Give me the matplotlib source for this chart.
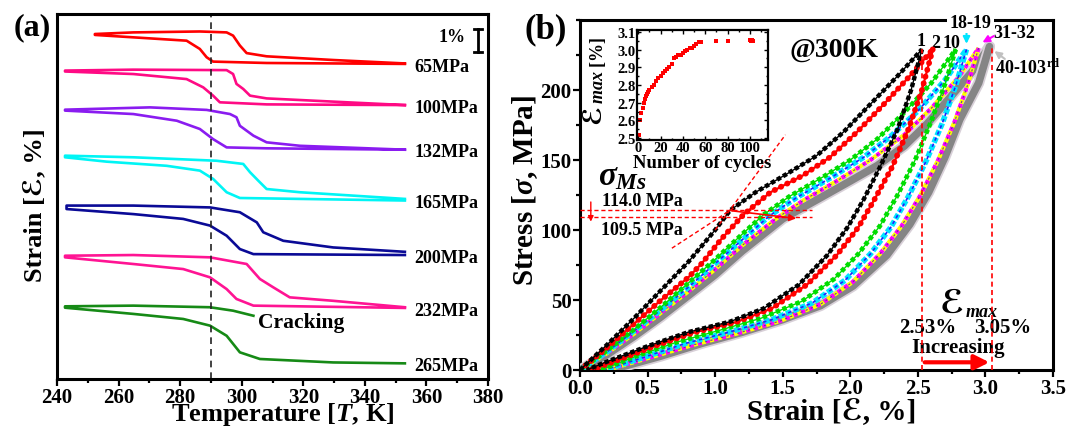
import matplotlib.pyplot as plt
import numpy as np
from matplotlib.ticker import MultipleLocator

plt.rcParams['font.family'] = ['Liberation Serif', 'STIXGeneral', 'DejaVu Sans']
plt.rcParams['font.weight'] = 'bold'
plt.rcParams['axes.labelweight'] = 'bold'
plt.rcParams['mathtext.fontset'] = 'custom'
plt.rcParams['mathtext.rm'] = 'Liberation Serif:bold'
plt.rcParams['mathtext.bf'] = 'Liberation Serif:bold'
plt.rcParams['mathtext.it'] = 'Liberation Serif:italic:bold'

# ---------- panel (a): strain-temperature loops at constant stress ----------
LOADS = ['65MPa', '100MPa', '132MPa', '165MPa', '200MPa', '232MPa', '265MPa']
LOAD_COLORS = ['#ff0000', '#ff0a84', '#8a1cf0', '#00f5f5', '#0a0a96', '#ff1493', '#168a16']

# branch with the higher transformation temperature (upper in the middle)
HEAT_T = [
    [252.3, 264.8, 286.4, 295.1, 297.2, 299.4, 301.6, 308.1, 329.7, 353],
    [242.6, 264.8, 295.1, 297.2, 298.3, 299.4, 300.5, 302.7, 308.1, 329.7, 353],
    [242.6, 270.2, 288.6, 296.2, 298.3, 299.4, 303.8, 308.1, 318.9, 353],
    [242.6, 264.8, 291.8, 300.5, 302.7, 305.4, 308.1, 318.9, 353],
    [243.1, 264.8, 289.7, 299.4, 304.9, 307.0, 313.5, 329.7, 353],
    [242.6, 264.8, 289.7, 301.6, 305.9, 310.2, 315.6, 329.7, 353],
    [242.6, 264.8, 289.7, 297.2, 303.8],
]
HEAT_S = [
    [15.0, 15.07, 15.11, 15.07, 14.93, 14.5, 14.17, 14.03, 13.87, 13.72],
    [13.41, 13.45, 13.43, 13.26, 12.83, 12.72, 12.61, 12.32, 12.2, 12.06, 11.91],
    [11.71, 11.81, 11.7, 11.52, 11.38, 11.01, 10.58, 10.29, 10.14, 9.97],
    [9.71, 9.64, 9.49, 9.35, 8.99, 8.62, 8.26, 8.12, 7.83],
    [7.54, 7.54, 7.46, 7.25, 6.81, 6.38, 6.01, 5.72, 5.53],
    [5.36, 5.39, 5.29, 5.0, 4.35, 3.99, 3.55, 3.40, 3.12],
    [3.16, 3.19, 3.12, 2.97, 2.75],
]
# branch with the lower transformation temperature
COOL_T = [
    [252.3, 270.2, 282.1, 286.4, 288.6, 290.7, 308.1, 353],
    [242.6, 264.8, 282.1, 287.5, 290.7, 292.9, 308.1, 353],
    [242.6, 264.8, 278.9, 286.4, 290.7, 295.1, 308.1, 353],
    [242.6, 256.1, 275.6, 286.4, 290.7, 295.1, 299.4, 353],
    [243.1, 264.8, 281.0, 289.7, 295.1, 299.4, 303.8, 353],
    [242.6, 264.8, 281.0, 289.7, 295.1, 298.3, 303.8, 353],
    [242.6, 264.8, 281.0, 289.7, 295.1, 299.4, 305.9, 329.7, 353],
]
COOL_S = [
    [14.96, 14.81, 14.71, 14.35, 13.99, 13.8, 13.74, 13.70],
    [13.37, 13.26, 13.04, 12.68, 12.32, 12.03, 11.94, 11.91],
    [11.67, 11.52, 11.23, 10.87, 10.43, 10.07, 10.03, 9.97],
    [9.64, 9.45, 9.27, 9.06, 8.7, 8.12, 7.87, 7.76],
    [7.39, 7.17, 6.96, 6.67, 6.23, 5.65, 5.43, 5.39],
    [5.29, 5.0, 4.78, 4.42, 3.91, 3.48, 3.19, 3.09],
    [3.1, 2.83, 2.61, 2.32, 1.88, 1.16, 0.87, 0.72, 0.68],
]
T_MARK = 290

# ---------- panel (b): cyclic stress-strain at 300 K ----------
CYCLE_LABELS = ['1', '2', '10', '18-19', '31-32', '40-103']
LOAD_E = [
    [0, 0.2, 0.4, 0.6, 0.8, 1.0, 1.11, 1.3, 1.53, 1.75, 1.95, 2.15, 2.35, 2.53],
    [0, 0.2, 0.4, 0.6, 0.8, 0.9, 1.05, 1.21, 1.41, 1.65, 1.85, 2.05, 2.25, 2.45, 2.61],
    [0, 0.2, 0.4, 0.6, 0.8, 1.0, 1.2, 1.36, 1.55, 1.8, 2.0, 2.2, 2.4, 2.6, 2.78],
    [0, 0.2, 0.4, 0.6, 0.8, 1.0, 1.2, 1.4, 1.6, 1.85, 2.1, 2.3, 2.5, 2.7, 2.86],
    [0, 0.2, 0.4, 0.6, 0.8, 1.0, 1.2, 1.45, 1.65, 1.9, 2.15, 2.4, 2.6, 2.8, 2.95],
    [0, 0.2, 0.4, 0.6, 0.8, 1.0, 1.2, 1.5, 1.76, 2.0, 2.2, 2.4, 2.57, 2.75, 2.9, 3.03],
]
LOAD_S = [
    [0, 18, 37, 57, 77, 100, 114, 127, 140, 153, 170, 190, 210, 229],
    [0, 16, 33, 50, 66, 76, 94, 111, 127, 139, 152, 170, 190, 211, 229],
    [0, 14, 29, 45, 62, 79, 97, 111, 124, 138, 150, 165, 184, 205, 229],
    [0, 13, 28, 43, 59, 76, 93, 110, 123, 137, 152, 167, 185, 207, 229],
    [0, 12, 26, 41, 56, 72, 89, 108, 121, 135, 150, 168, 187, 209, 230],
    [0, 11, 24, 38, 53, 68, 85, 108, 122, 135, 146, 160, 176, 196, 213, 231],
]
UNLOAD_E = [
    [2.53, 2.45, 2.35, 2.22, 2.1, 1.98, 1.83, 1.62, 1.36, 1.11, 0.8, 0.5, 0.2, 0.05],
    [2.61, 2.53, 2.43, 2.31, 2.18, 2.06, 1.9, 1.68, 1.42, 1.15, 0.85, 0.55, 0.25, 0.08],
    [2.78, 2.7, 2.6, 2.48, 2.35, 2.22, 2.06, 1.88, 1.64, 1.34, 1.02, 0.72, 0.42, 0.15],
    [2.86, 2.78, 2.68, 2.56, 2.43, 2.3, 2.15, 1.96, 1.72, 1.42, 1.1, 0.78, 0.47, 0.18],
    [2.95, 2.87, 2.77, 2.65, 2.52, 2.38, 2.22, 2.02, 1.78, 1.48, 1.16, 0.84, 0.52, 0.2],
    [3.03, 2.95, 2.81, 2.7, 2.58, 2.44, 2.27, 2.02, 1.78, 1.5, 1.2, 0.9, 0.6, 0.3, 0.2],
]
UNLOAD_S = [
    [229, 200, 172, 145, 122, 102, 82, 61, 44, 34.5, 27, 17, 6, 0],
    [229, 200, 172, 145, 122, 102, 82, 61, 44, 34, 27, 17, 6, 0],
    [229, 204, 178, 150, 125, 103, 83, 65, 49, 37, 28, 20, 10, 0],
    [229, 203, 176, 149, 124, 102, 83, 64, 48, 36, 27, 19, 9, 0],
    [230, 204, 177, 150, 125, 103, 83, 63, 47, 35, 26, 18, 9, 0],
    [231, 205, 179, 152, 127, 104, 82, 60, 46, 36, 27, 19, 10, 2, 0],
]
SIGMA_MS = [114.0, 109.5]
EPS_MAX = [2.53, 3.05]

# inset: maximum strain vs cycle number
N_CYCLE = [1, 2, 3, 4, 5, 6, 7, 8, 9, 10, 12, 14, 16, 18, 20, 22, 24, 26, 28, 30,
           32, 34, 36, 38, 40, 42, 44, 46, 48, 50, 52, 54, 56, 70, 80, 100, 101, 102, 103]
E_MAX = [2.52, 2.60, 2.64, 2.67, 2.70, 2.72, 2.74, 2.75, 2.76, 2.77, 2.79, 2.80, 2.82,
         2.84, 2.85, 2.87, 2.88, 2.89, 2.90, 2.92, 2.95, 2.96, 2.97, 2.97, 2.98, 2.99,
         3.00, 3.01, 3.01, 3.02, 3.03, 3.04, 3.04, 3.05, 3.05, 3.055, 3.05, 3.055, 3.05]

fig = plt.figure(figsize=(10.69, 4.27), dpi=100)
ax_a = fig.add_axes([57 / 1069, 47 / 427, 431 / 1069, 365 / 427])
ax_b = fig.add_axes([580 / 1069, 56 / 427, 473 / 1069, 350 / 427])
ax_in = fig.add_axes([637 / 1069, 286 / 427, 131 / 1069, 110 / 427])

for ax in (ax_a, ax_b, ax_in):
    for sp in ax.spines.values():
        sp.set_linewidth(2.2 if ax is not ax_in else 1.6)

# ---- (a)
for i, name in enumerate(LOADS):
    t = list(COOL_T[i][::-1]) + list(HEAT_T[i])
    s = list(COOL_S[i][::-1]) + list(HEAT_S[i])
    ax_a.plot(t, s, color=LOAD_COLORS[i], lw=1.9, solid_joinstyle='round')
    ax_a.text(356, COOL_S[i][-1] - 0.1, name, fontsize=13, va='center', ha='left')

ax_a.axvline(T_MARK, color='#222222', ls=(0, (4, 3)), lw=1.2)
ax_a.text(305.3, 2.5, 'Cracking', fontsize=15.5, va='center', ha='left')
ax_a.plot([376.7, 376.7], [14.2, 15.2], color='black', lw=2)
ax_a.plot([375.3, 378.1], [15.2, 15.2], color='black', lw=2)
ax_a.plot([375.3, 378.1], [14.2, 14.2], color='black', lw=2)
ax_a.text(368.3, 14.9, '1%', fontsize=13, ha='center', va='center')

ax_a.set_xlim(240, 380)
ax_a.set_ylim(0, 15.87)
ax_a.xaxis.set_major_locator(MultipleLocator(20))
ax_a.xaxis.set_minor_locator(MultipleLocator(10))
ax_a.tick_params(axis='x', which='both', direction='out', width=1.6, labelsize=15, pad=0.5)
ax_a.tick_params(axis='x', which='major', length=5)
ax_a.tick_params(axis='x', which='minor', length=3)
ax_a.tick_params(axis='y', left=False, labelleft=False)
ax_a.set_xlabel(r'Temperature [$T$, K]', fontsize=19)
ax_a.xaxis.set_label_coords(0.523, -0.058)
ax_a.set_ylabel('Strain [ℰ, %]', fontsize=19)
ax_a.yaxis.set_label_coords(-0.025, 0.48)
fig.text(14 / 1069, 1 - 28 / 427, '(a)', fontsize=23, va='center', ha='left')

# ---- (b)
def draw_cycle(ax, e, s, kind):
    if kind == 0:
        ax.plot(e, s, color='black', lw=1.0, zorder=8)
        ax.plot(e, s, color='black', lw=3.2, ls=(0, (1, 0.55)), dash_capstyle='butt', zorder=8)
    elif kind == 1:
        ax.plot(e, s, color='red', lw=1.6, zorder=7)
        ax.plot(e, s, color='red', lw=4.2, ls=(0, (0.05, 1.15)), dash_capstyle='round', zorder=7)
    elif kind == 2:
        ax.plot(e, s, color='#00dd00', lw=1.0, zorder=6)
        ax.plot(e, s, color='#00dd00', lw=3.4, ls=(0, (0.9, 0.6)), dash_capstyle='butt', zorder=6)
    elif kind == 3:
        ax.plot(e, s, color='#00e5ff', lw=4.0, ls=(0, (1.0, 0.4)), dash_capstyle='butt', zorder=5)
        ax.plot(e, s, color='#2020ff', lw=1.2, ls=(0, (2, 2)), zorder=5)
    elif kind == 4:
        ax.plot(e, s, color='#ff00ff', lw=3.0, ls=(0, (1, 1)), zorder=4)
        ax.plot(e, s, color='#ffff00', lw=3.0, ls=(1, (1, 1)), zorder=4)
        ax.plot(e, s, color='#7030a0', lw=0.8, ls=(0, (2, 3)), zorder=4)
    else:
        ax.plot(e, s, color='#d8d0d8', lw=8.0, zorder=3, solid_capstyle='round')
        ax.plot(e, s, color='#858585', lw=5.5, zorder=3, solid_capstyle='round')


for k in range(len(CYCLE_LABELS)):
    draw_cycle(ax_b, LOAD_E[k], LOAD_S[k], k)
    draw_cycle(ax_b, UNLOAD_E[k], UNLOAD_S[k], k)

dash = (0, (3, 2))
for v in SIGMA_MS:
    ax_b.plot([0, 1.72], [v, v], color='red', lw=1.0, ls=dash, zorder=9)
ax_b.plot([1.0, 1.52], [100, 168], color='red', lw=1.0, ls=dash, zorder=9)
ax_b.plot([0.68, 1.15], [87, 116.5], color='red', lw=1.0, ls=dash, zorder=9)
ax_b.annotate('', xy=(1.62, 108), xytext=(1.1, 114),
              arrowprops=dict(arrowstyle='-|>', color='red', lw=1.2, mutation_scale=10), zorder=10)
ax_b.annotate('', xy=(0.08, 104), xytext=(0.08, 122),
              arrowprops=dict(arrowstyle='-|>', color='red', lw=1.0, mutation_scale=8), zorder=10)
ax_b.text(0.13, 139, r'$\sigma_{Ms}$', fontsize=24, ha='left', va='center')
ax_b.text(0.46, 121, f'{SIGMA_MS[0]:.1f} MPa', fontsize=13, ha='center', va='center')
ax_b.text(0.46, 100.5, f'{SIGMA_MS[1]:.1f} MPa', fontsize=13, ha='center', va='center')

tops = [229, 231]
for v, top in zip(EPS_MAX, tops):
    ax_b.plot([v, v], [0, top], color='red', lw=1.2, ls=dash, zorder=9)
ax_b.annotate('', xy=(EPS_MAX[1], 5.5), xytext=(EPS_MAX[0], 5.5),
              arrowprops=dict(arrowstyle='-|>', color='red', lw=3, mutation_scale=22), zorder=10)
ax_b.text(2.75, 47.5, 'ℰ', fontsize=24, ha='center', va='center')
ax_b.text(2.85, 41.5, 'max', fontsize=13, fontstyle='italic', ha='left', va='center')
ax_b.text(2.57, 30.5, f'{EPS_MAX[0]:.2f}%', fontsize=15, ha='center', va='center')
ax_b.text(3.13, 30.5, f'{EPS_MAX[1]:.2f}%', fontsize=15, ha='center', va='center')
ax_b.text(2.80, 16.5, 'Increasing', fontsize=15, ha='center', va='center')

ax_b.text(1.88, 229, '@300K', fontsize=20, ha='center', va='center')
ax_b.text(2.52, 235, CYCLE_LABELS[0], fontsize=13, ha='center', va='center')
ax_b.text(2.63, 234, CYCLE_LABELS[1], fontsize=13, ha='center', va='center')
ax_b.text(2.75, 234, CYCLE_LABELS[2], fontsize=13, ha='center', va='center')
ax_b.text(2.89, 248.5, CYCLE_LABELS[3], fontsize=13, ha='center', va='center', zorder=12,
          bbox=dict(facecolor='white', edgecolor='none', pad=1.5))
ax_b.text(3.21, 241, CYCLE_LABELS[4], fontsize=13, ha='center', va='center')
ax_b.text(3.07, 216, CYCLE_LABELS[5] + r'$^{\mathrm{rd}}$', fontsize=13, ha='left', va='center')
ax_b.annotate('', xy=(2.86, 231), xytext=(2.86, 245),
              arrowprops=dict(arrowstyle='-|>', color='#00e5ff', lw=1.5, mutation_scale=10), zorder=10)
ax_b.annotate('', xy=(2.96, 233), xytext=(3.08, 239.5),
              arrowprops=dict(arrowstyle='-|>', color='#ff00ff', lw=1.5, mutation_scale=10), zorder=10)
ax_b.annotate('', xy=(3.05, 229), xytext=(3.16, 221),
              arrowprops=dict(arrowstyle='-|>', color='#c0c0c0', lw=1.5, mutation_scale=10), zorder=10)

ax_b.set_xlim(0, 3.5)
ax_b.set_ylim(0, 250)
ax_b.xaxis.set_major_locator(MultipleLocator(0.5))
ax_b.xaxis.set_minor_locator(MultipleLocator(0.25))
ax_b.yaxis.set_major_locator(MultipleLocator(50))
ax_b.yaxis.set_minor_locator(MultipleLocator(25))
ax_b.set_yticks([0, 50, 100, 150, 200])
ax_b.tick_params(which='both', direction='out', width=1.6, labelsize=15, pad=1)
ax_b.tick_params(which='major', length=5)
ax_b.tick_params(which='minor', length=3)
ax_b.set_xlabel('Strain [ℰ, %]', fontsize=21)
ax_b.xaxis.set_label_coords(0.533, -0.08)
ax_b.set_ylabel(r'Stress [$\sigma$, MPa]', fontsize=21)
ax_b.yaxis.set_label_coords(-0.085, 0.517)
fig.text(525 / 1069, 1 - 30 / 427, '(b)', fontsize=25, va='center', ha='left')

# ---- inset
ax_in.scatter(N_CYCLE, E_MAX, s=5, color='red', marker='s', linewidths=0)
ax_in.set_xlim(-1, 116)
ax_in.set_ylim(2.49, 3.11)
ax_in.xaxis.set_major_locator(MultipleLocator(20))
ax_in.xaxis.set_minor_locator(MultipleLocator(10))
ax_in.yaxis.set_major_locator(MultipleLocator(0.1))
ax_in.yaxis.set_minor_locator(MultipleLocator(0.05))
ax_in.tick_params(which='both', direction='in', top=True, right=True, width=1, labelsize=10.5, pad=1)
ax_in.tick_params(which='major', length=3)
ax_in.tick_params(which='minor', length=1.5)
ax_in.set_xlabel('Number of cycles', fontsize=13.5, labelpad=0)
ax_in.text(-0.33, 0.24, 'ℰ', fontsize=19, rotation=90, ha='center', va='center',
           transform=ax_in.transAxes)
ax_in.text(-0.30, 0.64, r'$\mathit{max}$ [%]', fontsize=13, rotation=90, ha='center', va='center',
           transform=ax_in.transAxes)

fig.savefig('out.png', dpi=100)
